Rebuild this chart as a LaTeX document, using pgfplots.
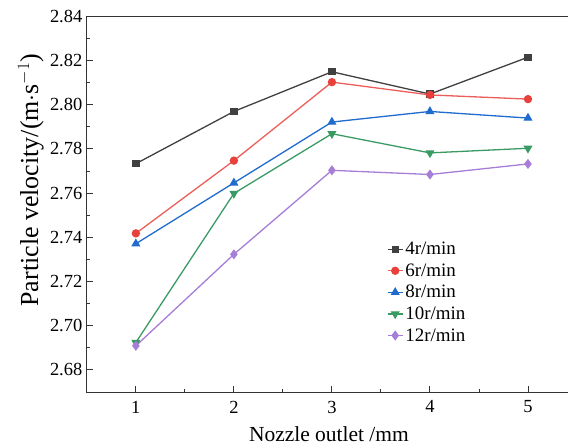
\documentclass[border=0pt]{standalone}
\usepackage{fontspec}
\setmainfont{Liberation Serif}
\usepackage{pgfplots}
\pgfplotsset{compat=1.18}
\usetikzlibrary{calc}

\definecolor{c4}{HTML}{404040}
\definecolor{c6}{HTML}{E8413C}
\definecolor{c8}{HTML}{1F6BCE}
\definecolor{c10}{HTML}{3A9A63}
\definecolor{c12}{HTML}{A67ED8}

\begin{document}
\begin{tikzpicture}
\begin{axis}[
  scale only axis,
  width=491pt, height=376.3pt,
  xmin=0.5, xmax=5.5, ymin=2.6696, ymax=2.84,
  xtick={1,2,3,4,5},
  ytick={2.68,2.70,2.72,2.74,2.76,2.78,2.80,2.82,2.84},
  minor x tick num=1, minor y tick num=1,
  tick pos=left, tick align=inside,
  major tick length=6pt, minor tick length=3.5pt,
  tick style={black!80, line width=0.9pt},
  axis line style={black!80, line width=1.1pt},
  yticklabel style={/pgf/number format/fixed, /pgf/number format/fixed zerofill,
    /pgf/number format/precision=2, xshift=-1pt},
  /pgf/number format/assume math mode=true,
  ticklabel style={font=\fontsize{18.5}{22}\selectfont},
  xticklabel style={yshift=-5pt},
  xlabel={Nozzle outlet /mm},
  ylabel={Particle velocity/(m$\cdot$s$^{-1}$)},
  xlabel style={font=\fontsize{21.5}{25}\selectfont,
    at={(axis description cs:0.494,-0.112)}, anchor=center},
  ylabel style={font=\fontsize{26}{30}\selectfont,
    at={(axis description cs:-0.114,0.565)}, anchor=center},
  legend style={at={(axis cs:3.53,2.7396)}, anchor=north west, draw=none, fill=none,
    font=\fontsize{19}{22}\selectfont, row sep=3.5pt},
  legend cell align=left,
  legend image code/.code={%
    \draw[mark repeat=2, mark phase=2, #1] plot coordinates {(0pt,0pt) (7.5pt,0pt) (15pt,0pt)};},
  every axis plot/.append style={line width=1.3pt},
]
\addplot[c4, mark=square*, mark size=3pt] coordinates {
  (1,2.7733) (2,2.7970) (3,2.8150) (4,2.8049) (5,2.8216)};
\addplot[c6!85!white, mark=*, mark size=3.5pt, mark options={fill=c6, draw=c6}] coordinates {
  (1,2.7417) (2,2.7747) (3,2.8103) (4,2.8045) (5,2.8026)};
\addplot[c8, mark=triangle*, mark size=4pt] coordinates {
  (1,2.7370) (2,2.7646) (3,2.7922) (4,2.7970) (5,2.7940)};
\addplot[c10, mark=triangle*, mark size=4pt, mark options={rotate=180}] coordinates {
  (1,2.6922) (2,2.7598) (3,2.7869) (4,2.7782) (5,2.7803)};
\addplot[c12, mark=diamond*, mark size=4pt] coordinates {
  (1,2.6907) (2,2.7322) (3,2.7703) (4,2.7684) (5,2.7732)};
\legend{4r/min, 6r/min, 8r/min, 10r/min, 12r/min}
\end{axis}
\pgfresetboundingbox
\path ($(current axis.south west)+(-87pt,-53pt)$) rectangle ($(current axis.north east)+(-9pt,16.7pt)$);
\end{tikzpicture}
\end{document}
